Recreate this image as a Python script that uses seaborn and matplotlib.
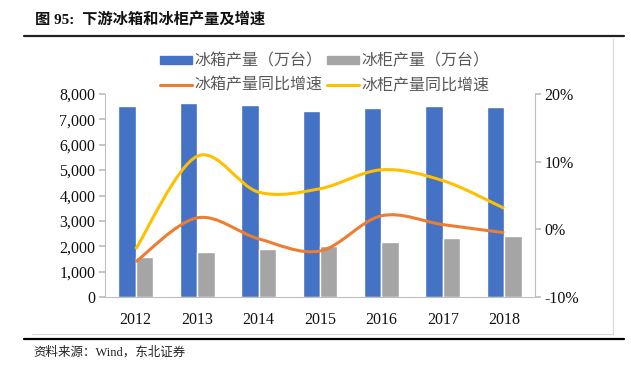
import matplotlib
matplotlib.use("Agg")
import matplotlib.pyplot as plt
import seaborn as sns
import pandas as pd
import numpy as np
from matplotlib.path import Path
from matplotlib.patches import PathPatch, Patch
from matplotlib.lines import Line2D
from matplotlib.ticker import FuncFormatter

# data
years = ["2012", "2013", "2014", "2015", "2016", "2017", "2018"]
fridge_output = [7527, 7633, 7567, 7318, 7460, 7527, 7500]     # 冰箱产量（万台）
freezer_output = [1588, 1786, 1892, 2022, 2180, 2337, 2416]    # 冰柜产量（万台）
fridge_yoy = [-4.8, 1.7, -1.4, -3.2, 2.0, 0.7, -0.5]            # 冰箱产量同比增速 %
freezer_yoy = [-2.9, 10.8, 5.5, 6.0, 8.8, 7.2, 3.1]             # 冰柜产量同比增速 %

bar_names = ["冰箱产量（万台）", "冰柜产量（万台）"]
line_names = ["冰箱产量同比增速", "冰柜产量同比增速"]
blue, gray, orange, yellow = "#4472C4", "#A5A5A5", "#ED7D31", "#FFC000"

sns.set_theme(style="white")
plt.rcParams["font.family"] = ["Liberation Serif", "Noto Sans CJK SC"]
cjk = ["Noto Sans CJK SC", "DejaVu Sans"]
serif = "Liberation Serif"

df = pd.DataFrame({
    "year": years * 2,
    "value": fridge_output + freezer_output,
    "series": [bar_names[0]] * 7 + [bar_names[1]] * 7,
})

fig = plt.figure(figsize=(6.31, 3.74), dpi=100)
ax = fig.add_axes([105 / 631, 1 - 297 / 374, 430 / 631, 203 / 374])

sns.barplot(data=df, x="year", y="value", hue="series", palette=[blue, gray],
            width=0.566, gap=0, saturation=1, ax=ax, legend=False)
ax.set_xlim(-0.5, 6.5)
ax.set_ylim(0, 8000)
ax.set_yticks(range(0, 8001, 1000))
ax.yaxis.set_major_formatter(FuncFormatter(lambda v, p: f"{int(v):,}"))
ax.set_xlabel("")
ax.set_ylabel("")
for s in ["top", "right"]:
    ax.spines[s].set_visible(False)
for s in ["left", "bottom"]:
    ax.spines[s].set_color("#BFBFBF")
    ax.spines[s].set_linewidth(0.8)
ax.tick_params(axis="y", left=True, length=4, color="#BFBFBF", labelsize=11.5, pad=3,
               labelcolor="#111111")
ax.tick_params(axis="x", bottom=False, labelsize=11.5, pad=5, labelcolor="#111111")

ax2 = ax.twinx()
ax2.set_ylim(-10, 20)
ax2.set_yticks([-10, 0, 10, 20])
ax2.yaxis.set_major_formatter(FuncFormatter(lambda v, p: f"{int(v)}%"))
for s in ["top", "left", "bottom"]:
    ax2.spines[s].set_visible(False)
ax2.spines["right"].set_color("#BFBFBF")
ax2.spines["right"].set_linewidth(0.8)
ax2.tick_params(axis="y", right=True, length=4, color="#BFBFBF", labelsize=11.5, pad=3,
                labelcolor="#111111")

for a in (ax, ax2):
    for t in a.yaxis.get_major_ticks() + a.xaxis.get_major_ticks():
        t.label1.set_family(serif)
        t.label2.set_family(serif)


def smooth_path(xs, ys):
    # Excel-style smoothed line: Catmull-Rom segments as cubic Bezier
    pts = np.column_stack([xs, ys]).astype(float)
    n = len(pts)
    verts = [pts[0]]
    codes = [Path.MOVETO]
    for i in range(n - 1):
        p0 = pts[i - 1] if i > 0 else pts[i]
        p1 = pts[i]
        p2 = pts[i + 1]
        p3 = pts[i + 2] if i + 2 < n else pts[i + 1]
        c1 = p1 + (p2 - p0) / 6
        c2 = p2 - (p3 - p1) / 6
        verts += [c1, c2, p2]
        codes += [Path.CURVE4] * 3
    return Path(verts, codes)


xpos = np.arange(len(years))
for vals, col in [(freezer_yoy, yellow), (fridge_yoy, orange)]:
    ax2.add_patch(PathPatch(smooth_path(xpos, vals), facecolor="none",
                            edgecolor=col, linewidth=2.2, capstyle="butt"))

handles = [Patch(color=blue), Line2D([], [], color=orange, lw=2.2),
           Patch(color=gray), Line2D([], [], color=yellow, lw=2.2)]
labels = [bar_names[0], line_names[0], bar_names[1], line_names[1]]
fig.legend(handles, labels, ncol=2, loc="center", bbox_to_anchor=(325 / 631, 1 - 73 / 374),
           frameon=False, prop={"family": cjk, "size": 11.5}, labelcolor="#595959",
           handlelength=2.0, handleheight=0.4, columnspacing=0.3, handletextpad=0.15,
           labelspacing=0.45)

# title, rules and source
fig.text(35 / 631, 1 - 20 / 374, "图 95:  下游冰箱和冰柜产量及增速",
         family=["Liberation Serif", "Noto Sans CJK SC"],
         fontsize=11, fontweight="bold", va="center", ha="left", color="#111111")
fig.add_artist(Line2D([24 / 631, 624 / 631], [1 - 35.5 / 374] * 2, color="#222222", lw=1.6))
fig.add_artist(Line2D([32 / 631, 613 / 631], [1 - 334 / 374] * 2, color="#D9D9D9", lw=0.8))
fig.add_artist(Line2D([613 / 631, 613 / 631], [1 - 334 / 374, 1 - 39 / 374], color="#D9D9D9", lw=0.8))
fig.add_artist(Line2D([24 / 631, 624 / 631], [1 - 338.5 / 374] * 2, color="black", lw=1.6))
fig.text(33 / 631, 1 - 352 / 374, "资料来源：Wind，东北证券",
         family=["Liberation Serif", "Noto Sans CJK SC"],
         fontsize=9, va="center", ha="left", color="#222222")

fig.savefig("out.png", dpi=100)
